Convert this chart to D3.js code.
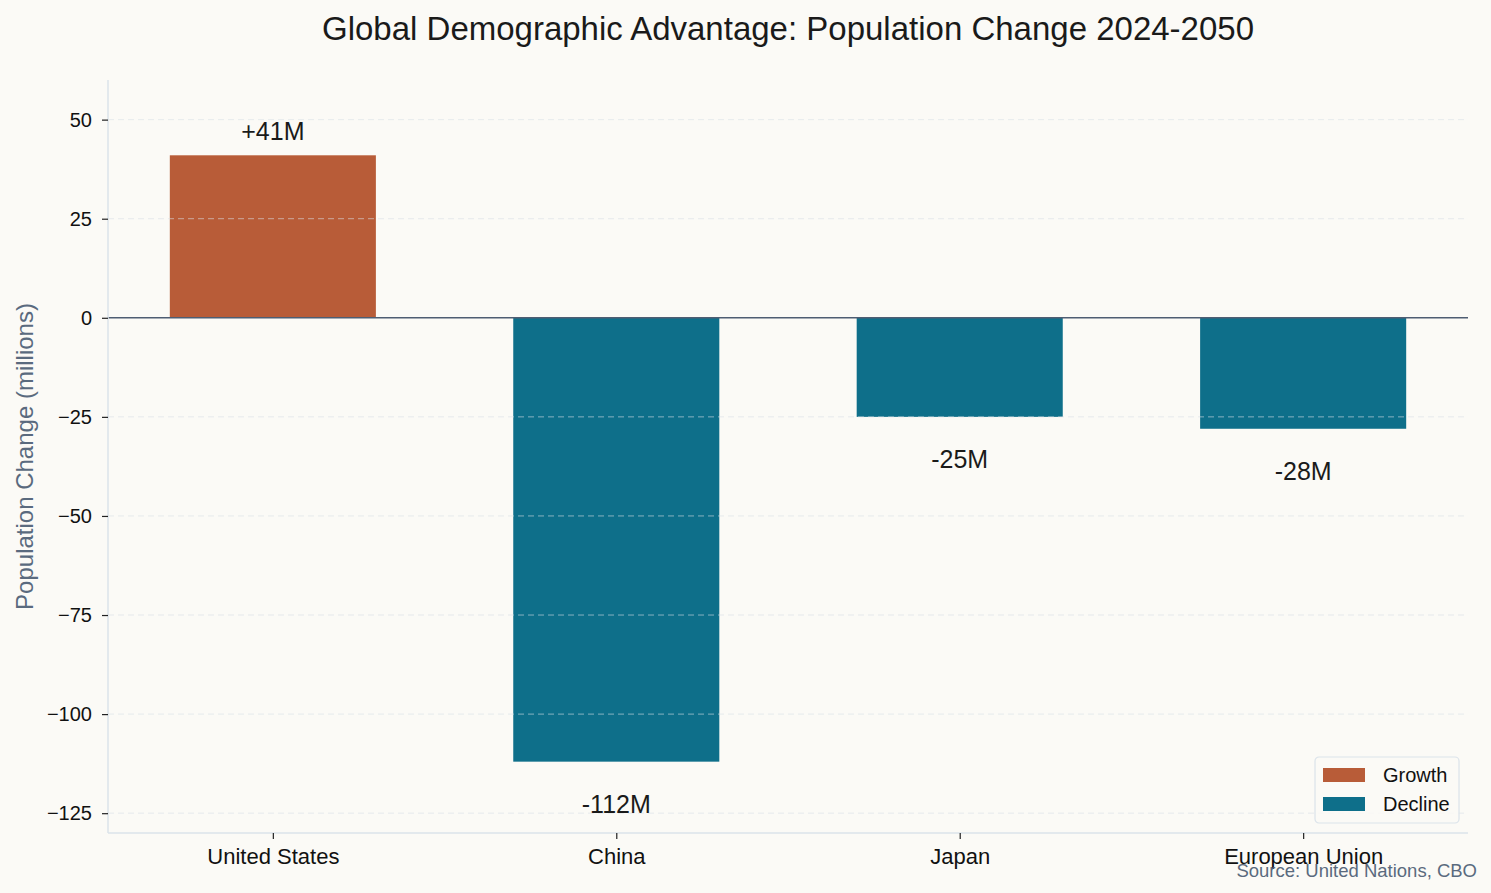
<!DOCTYPE html>
<html>
<head>
<meta charset="utf-8">
<script src="https://cdn.jsdelivr.net/npm/d3@7"></script>
<style>
  body { margin: 0; background: #fbfaf6; }
  svg { font-family: "Liberation Sans", Arial, sans-serif; }
</style>
</head>
<body>
<svg id="chart"></svg>
<script>
const categories = ["United States", "China", "Japan", "European Union"];
const changes = [41, -112, -25, -28];
const valueLabels = ["+41M", "-112M", "-25M", "-28M"];
const yTicks = [50, 25, 0, -25, -50, -75, -100, -125];
const legendItems = ["Growth", "Decline"];

let W = 1491, H = 893,
    margin = {top: 80, right: 23, bottom: 60, left: 108},
    width = W - margin.left - margin.right,
    height = H - margin.top - margin.bottom;

const growthColor = "#b85c38", declineColor = "#0e6f8a";

let svg = d3.select("#chart").attr("width", W).attr("height", H);
svg.append("rect").attr("width", W).attr("height", H).attr("fill", "#fbfaf6");

let g = svg.append("g").attr("transform", "translate(" + margin.left + "," + margin.top + ")");

let x = d3.scaleLinear().domain([-0.48, 3.48]).range([0, width]),
    y = d3.scaleLinear().domain([-130, 60]).range([height, 0]);
let barW = x(0.6) - x(0);

// bars
g.selectAll(".bar")
  .data(changes)
  .enter().append("rect")
    .attr("x", (d, i) => x(i) - barW / 2)
    .attr("y", d => y(Math.max(0, d)))
    .attr("width", barW)
    .attr("height", d => Math.abs(y(d) - y(0)))
    .attr("fill", d => d >= 0 ? growthColor : declineColor);

// grid sits over the bars, as in the original
g.selectAll(".grid")
  .data(yTicks.filter(t => t !== 0))
  .enter().append("line")
    .attr("x1", 0).attr("x2", width)
    .attr("y1", d => y(d)).attr("y2", d => y(d))
    .attr("stroke", "#d9dfe6")
    .attr("stroke-opacity", 0.6)
    .attr("stroke-dasharray", "6,4");

// zero line
g.append("line")
  .attr("x1", 0).attr("x2", width)
  .attr("y1", y(0)).attr("y2", y(0))
  .attr("stroke", "#4e5d72").attr("stroke-width", 1.5);

// axes
let yAxis = d3.axisLeft(y).tickValues(yTicks).tickSize(6).tickPadding(10)
  .tickFormat(d => d < 0 ? "\u2212" + Math.abs(d) : d);
let xAxis = d3.axisBottom(x).tickValues(d3.range(categories.length)).tickSize(6).tickPadding(9)
  .tickFormat(i => categories[i]);

let ya = g.append("g").call(yAxis);
let xa = g.append("g").attr("transform", "translate(0," + height + ")").call(xAxis);
[ya, xa].forEach(a => {
  a.select(".domain").attr("stroke", "#dbe3ea").attr("stroke-width", 1.5);
  a.selectAll(".tick line").attr("stroke", "#222").attr("stroke-width", 1.2);
  a.selectAll(".tick text").attr("fill", "#111")
    .style("font-family", "'Liberation Sans', Arial, sans-serif");
});
ya.selectAll(".tick text").style("font-size", "20px");
xa.selectAll(".tick text").style("font-size", "22px");
ya.select(".domain").attr("d", "M0," + height + "V0");
xa.select(".domain").attr("d", "M0,0H" + width);

// value labels
g.selectAll(".val")
  .data(changes)
  .enter().append("text")
    .attr("x", (d, i) => x(i))
    .attr("y", d => d >= 0 ? y(d) - 15 : y(d) + 51)
    .attr("text-anchor", "middle")
    .style("font-size", "25px")
    .attr("fill", "#1a1a1a")
    .text((d, i) => valueLabels[i]);

// title
svg.append("text")
  .attr("x", margin.left + width / 2).attr("y", 40)
  .attr("text-anchor", "middle")
  .style("font-size", "33px")
  .attr("fill", "#1a1a1a")
  .text("Global Demographic Advantage: Population Change 2024-2050");

// y label
svg.append("text")
  .attr("transform", "rotate(-90)")
  .attr("x", -(margin.top + height / 2)).attr("y", 33)
  .attr("text-anchor", "middle")
  .style("font-size", "24px")
  .attr("fill", "#5a6a7e")
  .text("Population Change (millions)");

// legend
let lg = svg.append("g").attr("transform", "translate(1315,757)");
lg.append("rect").attr("width", 144).attr("height", 66).attr("rx", 4)
  .attr("fill", "#fbfaf6").attr("fill-opacity", 0.8)
  .attr("stroke", "#dbe3ea").attr("stroke-width", 1.2);
legendItems.forEach((name, i) => {
  lg.append("rect").attr("x", 8).attr("y", 11 + i * 29).attr("width", 42).attr("height", 14)
    .attr("fill", i === 0 ? growthColor : declineColor);
  lg.append("text").attr("x", 68).attr("y", 25 + i * 29)
    .style("font-size", "20px").attr("fill", "#111").text(name);
});

// source
svg.append("text")
  .attr("x", 1477).attr("y", 877)
  .attr("text-anchor", "end")
  .style("font-size", "18.5px")
  .attr("fill", "#5a6a7e")
  .text("Source: United Nations, CBO");
</script>
</body>
</html>
